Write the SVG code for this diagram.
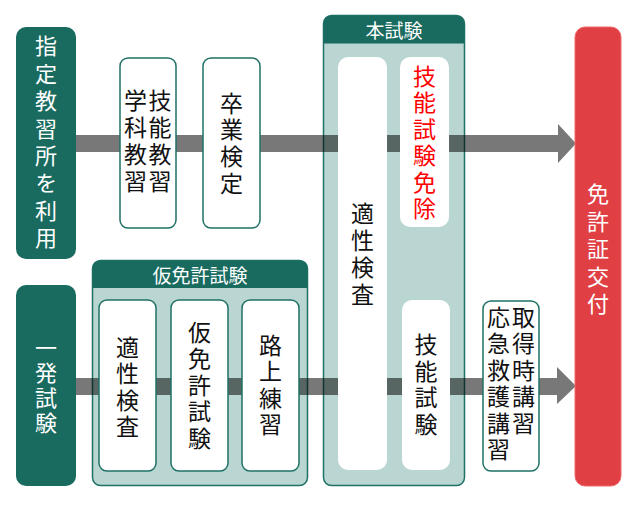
<svg xmlns="http://www.w3.org/2000/svg" width="640" height="506" viewBox="0 0 640 506">
<defs>
<style>
text{font-family:"Noto Sans CJK JP","Noto Sans",sans-serif;text-anchor:middle;dominant-baseline:central}
.v{writing-mode:vertical-rl;text-orientation:upright}
.dark{fill:#196B60}
.panel{fill:#B9D6D2;stroke:#1F7266;stroke-width:1.5}
.box{fill:#fff;stroke:#1F7266;stroke-width:1.5}
.wbox{fill:#fff}
.wt{fill:#fff;font-size:22px}
.ht{fill:#fff;font-size:19px}
.bt{fill:#111;font-size:23px}
.rt{fill:#FF0000;font-size:23px}
.bar{fill:#000;fill-opacity:0.53}
</style>
</defs>
<rect width="640" height="506" fill="#fff"/>

<g id="honshiken-panel">
<rect class="panel" x="323.5" y="15.5" width="141" height="470" rx="8"/>
<path class="dark" d="M323.5 23.5a8 8 0 0 1 8-8h125a8 8 0 0 1 8 8v20h-141z"/>
<text class="ht" x="394" y="29">本試験</text>
</g>

<g id="karimenkyo-panel">
<rect class="panel" x="92.5" y="260.5" width="215" height="225" rx="8"/>
<path class="dark" d="M92.5 268.5a8 8 0 0 1 8-8h199a8 8 0 0 1 8 8v19.5h-215z"/>
<text class="ht" x="200" y="274">仮免許試験</text>
</g>

<g id="connectors">
<path class="bar" d="M76 135H558V124L576 143.5L558 163V152H76Z"/>
<path class="bar" d="M76 378H557V367L576 386L557 404V395H76Z"/>
</g>

<g id="shiteikyoushujo">
<rect class="dark" x="16" y="27" width="60" height="232" rx="10"/>
<text class="wt v" x="46" y="144.7" style="letter-spacing:5.4px">指定教習所を利用</text>
</g>

<g id="ippatsu">
<rect class="dark" x="16" y="285" width="60" height="201" rx="10"/>
<text class="wt v" x="46" y="387" style="letter-spacing:3px">一発試験</text>
</g>

<g id="kyoushu">
<rect class="box" x="120" y="58" width="56" height="170" rx="8"/>
<text class="bt v" x="160" y="142.5" style="letter-spacing:4px">技能教習</text>
<text class="bt v" x="135.5" y="142.5" style="letter-spacing:4px">学科教習</text>
</g>

<g id="sotsugyou">
<rect class="box" x="203" y="58" width="57" height="170" rx="8"/>
<text class="bt v" x="231.5" y="144.8" style="letter-spacing:3.7px">卒業検定</text>
</g>

<g id="tekisei-hon">
<rect class="wbox" x="338" y="57" width="49" height="413" rx="10"/>
<text class="bt v" x="362.5" y="255.5" style="letter-spacing:4px">適性検査</text>
</g>

<g id="ginou-menjo">
<rect class="wbox" x="400" y="57" width="49" height="170" rx="10"/>
<text class="rt v" x="424.5" y="144" style="letter-spacing:3.5px">技能試験免除</text>
</g>

<g id="ginou-shiken">
<rect class="wbox" x="402" y="300" width="48" height="170" rx="10"/>
<text class="bt v" x="426" y="386.1" style="letter-spacing:3.7px">技能試験</text>
</g>

<g id="koushu">
<rect class="box" x="483" y="301" width="56" height="170" rx="8"/>
<text class="bt v" x="523.5" y="371.75" style="letter-spacing:3.5px">取得時講習</text>
<text class="bt v" x="498.5" y="385" style="letter-spacing:3.5px">応急救護講習</text>
</g>

<g id="tekisei-kari">
<rect class="box" x="99" y="300" width="57" height="171" rx="8"/>
<text class="bt v" x="127.5" y="388.5" style="letter-spacing:3.5px">適性検査</text>
</g>

<g id="karimenkyo">
<rect class="box" x="171" y="300" width="57" height="171" rx="8"/>
<text class="bt v" x="199.5" y="386.75" style="letter-spacing:3.5px">仮免許試験</text>
</g>

<g id="rojou">
<rect class="box" x="242" y="300" width="57" height="171" rx="8"/>
<text class="bt v" x="270.5" y="386.5" style="letter-spacing:3.5px">路上練習</text>
</g>

<g id="menkyo-koufu">
<rect x="575" y="27" width="46" height="459" rx="10" fill="#E03F44" stroke="#EE6A6C" stroke-width="1"/>
<text class="wt v" x="598" y="251.75" style="letter-spacing:5.5px">免許証交付</text>
</g>
</svg>
